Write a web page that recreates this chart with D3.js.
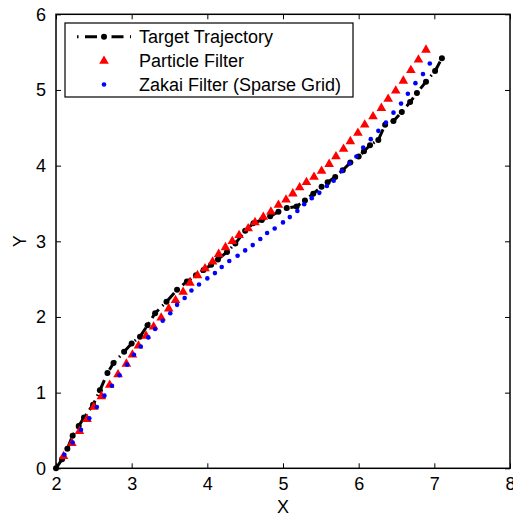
<!DOCTYPE html>
<html>
<head>
<meta charset="utf-8">
<script src="https://cdn.jsdelivr.net/npm/d3@7"></script>
<style>
  html, body { margin: 0; padding: 0; background: #fff; }
  svg { display: block; font-family: "Liberation Sans", Arial, sans-serif; }
</style>
</head>
<body>
<svg id="chart" width="513" height="517"></svg>
<script>
// Target trajectory (true path)
const targetX = [2.00, 2.08, 2.15, 2.22, 2.30, 2.37, 2.49, 2.58, 2.68, 2.76,
                 2.90, 3.00, 3.11, 3.21, 3.31, 3.46, 3.60, 3.73, 3.85, 3.95,
                 4.05, 4.14, 4.26, 4.37, 4.50, 4.61, 4.72, 4.83, 4.94, 5.05,
                 5.18, 5.29, 5.40, 5.51, 5.59, 5.69, 5.79, 5.89, 6.00, 6.07,
                 6.15, 6.26, 6.35, 6.46, 6.57, 6.68, 6.77, 6.89, 7.01, 7.10];
const targetY = [0.00, 0.12, 0.26, 0.43, 0.56, 0.67, 0.84, 1.03, 1.26, 1.39,
                 1.54, 1.65, 1.74, 1.89, 2.05, 2.20, 2.36, 2.47, 2.55, 2.62,
                 2.69, 2.76, 2.86, 2.97, 3.14, 3.24, 3.28, 3.33, 3.39, 3.44,
                 3.46, 3.54, 3.63, 3.72, 3.78, 3.85, 3.94, 4.04, 4.12, 4.19,
                 4.27, 4.34, 4.54, 4.59, 4.71, 4.84, 4.96, 5.11, 5.25, 5.42];

// Particle filter estimates
const particleX = [2.10, 2.21, 2.31, 2.41, 2.50, 2.60, 2.71, 2.82, 2.93, 3.01,
                   3.09, 3.19, 3.29, 3.39, 3.49, 3.58, 3.68, 3.77, 3.87, 3.97,
                   4.07, 4.15, 4.24, 4.33, 4.42, 4.54, 4.63, 4.74, 4.84, 4.94,
                   5.04, 5.13, 5.22, 5.31, 5.41, 5.51, 5.61, 5.70, 5.80, 5.89,
                   5.99, 6.08, 6.19, 6.30, 6.39, 6.49, 6.59, 6.69, 6.79, 6.89];
const particleY = [0.16, 0.33, 0.49, 0.65, 0.81, 0.95, 1.10, 1.24, 1.38, 1.50,
                   1.62, 1.75, 1.87, 1.99, 2.11, 2.22, 2.33, 2.45, 2.55, 2.64,
                   2.73, 2.83, 2.92, 3.00, 3.08, 3.17, 3.25, 3.32, 3.39, 3.48,
                   3.55, 3.63, 3.71, 3.78, 3.85, 3.93, 4.02, 4.12, 4.22, 4.32,
                   4.43, 4.54, 4.65, 4.76, 4.88, 4.99, 5.12, 5.26, 5.40, 5.53];

// Zakai filter (sparse grid) estimates
const zakaiX = [2.11, 2.22, 2.33, 2.44, 2.54, 2.64, 2.74, 2.84, 2.94, 3.03,
                3.12, 3.22, 3.31, 3.41, 3.51, 3.60, 3.70, 3.79, 3.89, 4.00,
                4.10, 4.19, 4.29, 4.40, 4.50, 4.60, 4.70, 4.79, 4.89, 5.00,
                5.09, 5.19, 5.28, 5.38, 5.48, 5.58, 5.67, 5.78, 5.88, 5.97,
                6.06, 6.16, 6.26, 6.36, 6.46, 6.56, 6.65, 6.75, 6.85, 6.94];
const zakaiY = [0.18, 0.34, 0.51, 0.66, 0.81, 0.96, 1.09, 1.23, 1.37, 1.50,
                1.61, 1.73, 1.84, 1.95, 2.05, 2.16, 2.25, 2.35, 2.43, 2.51,
                2.58, 2.66, 2.74, 2.81, 2.88, 2.95, 3.03, 3.11, 3.17, 3.25,
                3.32, 3.40, 3.49, 3.57, 3.64, 3.73, 3.80, 3.93, 4.03, 4.12,
                4.24, 4.35, 4.46, 4.57, 4.70, 4.82, 4.95, 5.09, 5.21, 5.35];

const xTicks = [2, 3, 4, 5, 6, 7, 8];
const yTicks = [0, 1, 2, 3, 4, 5, 6];
const legendLabels = ["Target Trajectory", "Particle Filter", "Zakai Filter (Sparse Grid)"];

const svg = d3.select("#chart");
const W = 513, H = 517;
const plot = { left: 56, top: 14.3, right: 510, bottom: 468.3 };

svg.append("rect").attr("width", W).attr("height", H).attr("fill", "#fff");

const x = d3.scaleLinear().domain([2, 8]).range([plot.left, plot.right]);
const y = d3.scaleLinear().domain([0, 6]).range([plot.bottom, plot.top]);

const fontSize = 18;
const tickLen = 5;

// Axes (inward ticks) on all four sides
const axisStyle = g => {
  g.select(".domain").remove();
  g.selectAll(".tick line").attr("stroke", "#000").attr("stroke-width", 1);
  g.selectAll(".tick text").attr("fill", "#000").attr("font-size", fontSize)
    .attr("font-family", "Liberation Sans, Arial, sans-serif");
};

svg.append("g").attr("transform", `translate(0,${plot.bottom})`)
  .call(d3.axisBottom(x).tickValues(xTicks).tickFormat(d3.format("d"))
        .tickSizeInner(-tickLen).tickSizeOuter(0).tickPadding(9))
  .call(axisStyle);
svg.append("g").attr("transform", `translate(0,${plot.top})`)
  .call(d3.axisTop(x).tickValues(xTicks).tickFormat("")
        .tickSizeInner(-tickLen).tickSizeOuter(0))
  .call(axisStyle);
svg.append("g").attr("transform", `translate(${plot.left},0)`)
  .call(d3.axisLeft(y).tickValues(yTicks).tickFormat(d3.format("d"))
        .tickSizeInner(-tickLen).tickSizeOuter(0).tickPadding(10))
  .call(axisStyle);
svg.append("g").attr("transform", `translate(${plot.right},0)`)
  .call(d3.axisRight(y).tickValues(yTicks).tickFormat("")
        .tickSizeInner(-tickLen).tickSizeOuter(0))
  .call(axisStyle);

// Plot frame
svg.append("rect")
  .attr("x", plot.left).attr("y", plot.top)
  .attr("width", plot.right - plot.left).attr("height", plot.bottom - plot.top)
  .attr("fill", "none").attr("stroke", "#000").attr("stroke-width", 1.5);

// Axis titles
svg.append("text").attr("x", (plot.left + plot.right) / 2).attr("y", 513)
  .attr("text-anchor", "middle").attr("font-size", fontSize).text("X");
svg.append("text").attr("transform", `translate(26,${(plot.top + plot.bottom) / 2}) rotate(-90)`)
  .attr("text-anchor", "middle").attr("font-size", fontSize).text("Y");

const target = targetX.map((v, i) => [v, targetY[i]]);
const particle = particleX.map((v, i) => [v, particleY[i]]);
const zakai = zakaiX.map((v, i) => [v, zakaiY[i]]);

const dash = "11,5,1.5,5";
const line = d3.line().x(d => x(d[0])).y(d => y(d[1]));

// Target trajectory: thick dash-dot line with dot markers
svg.append("path").datum(target).attr("d", line)
  .attr("fill", "none").attr("stroke", "#000").attr("stroke-width", 3)
  .attr("stroke-dasharray", dash);
svg.append("g").selectAll("circle").data(target).join("circle")
  .attr("cx", d => x(d[0])).attr("cy", d => y(d[1])).attr("r", 3).attr("fill", "#000");

// Particle filter: red triangles
const tri = d3.symbol().type(d3.symbolTriangle).size(40);
svg.append("g").selectAll("path").data(particle).join("path")
  .attr("d", tri).attr("transform", d => `translate(${x(d[0])},${y(d[1])})`)
  .attr("fill", "#ff0000");

// Zakai filter: blue dots
svg.append("g").selectAll("circle").data(zakai).join("circle")
  .attr("cx", d => x(d[0])).attr("cy", d => y(d[1])).attr("r", 2.3).attr("fill", "#0000ff");

// Legend
const lg = svg.append("g");
lg.append("rect").attr("x", 65).attr("y", 23).attr("width", 288).attr("height", 74)
  .attr("fill", "#fff").attr("stroke", "#000").attr("stroke-width", 1.2);
const rowY = [36.7, 61, 84.5];
lg.append("line").attr("x1", 77).attr("x2", 131).attr("y1", rowY[0]).attr("y2", rowY[0])
  .attr("stroke", "#000").attr("stroke-width", 3)
  .attr("stroke-dasharray", "1.5,6.5,12,6.5").attr("stroke-dashoffset", 0);
lg.append("circle").attr("cx", 104).attr("cy", rowY[0]).attr("r", 3).attr("fill", "#000");
lg.append("path").attr("d", tri).attr("transform", `translate(104,${rowY[1]})`).attr("fill", "#ff0000");
lg.append("circle").attr("cx", 104).attr("cy", rowY[2]).attr("r", 2.3).attr("fill", "#0000ff");
lg.selectAll("text.lab").data(legendLabels).join("text").attr("class", "lab")
  .attr("x", 139).attr("y", (d, i) => rowY[i] + 6.3)
  .attr("font-size", fontSize).attr("fill", "#000").text(d => d);
</script>
</body>
</html>
